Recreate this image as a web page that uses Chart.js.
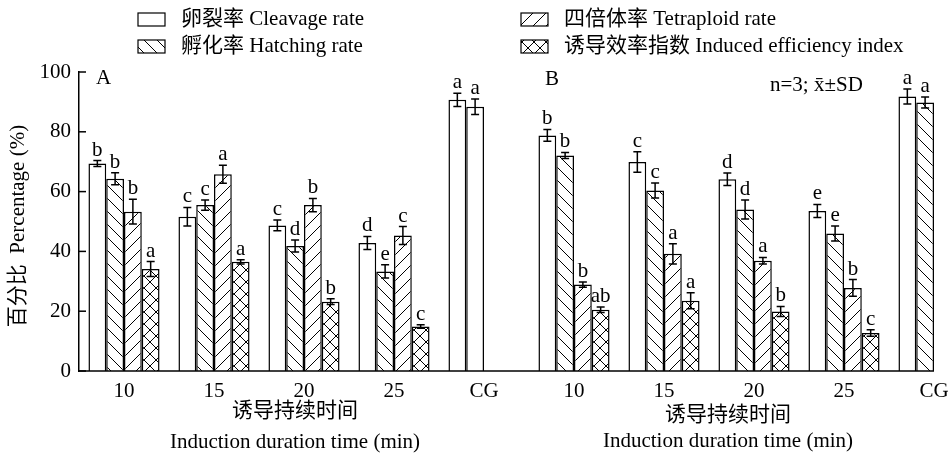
<!DOCTYPE html>
<html>
<head>
<meta charset="utf-8">
<script src="https://cdn.jsdelivr.net/npm/chart.js@4.4.1/dist/chart.umd.min.js"></script>
<style>
  html, body { margin: 0; padding: 0; background: #fff; overflow: hidden; }
  #wrap { width: 994px; height: 456px; }
</style>
</head>
<body>
<div id="wrap"><canvas id="chart" width="994" height="456"></canvas></div>
<script>
// groups: panel A (10..25, CG) then panel B (10..25, CG)
const categories = ['10', '15', '20', '25', 'CG', '10', '15', '20', '25', 'CG'];

const cleavage     = [69.4, 51.6, 48.7, 42.8, 90.7, 78.8, 69.9, 64.1, 53.5, 91.8];
const cleavageSD   = [1.0, 3.1, 1.8, 2.2, 2.2, 2.0, 3.4, 2.1, 2.2, 2.5];
const cleavageSig  = ['b', 'c', 'c', 'd', 'a', 'b', 'c', 'd', 'e', 'a'];

const hatching     = [64.3, 55.5, 41.8, 33.3, 88.4, 72.1, 60.4, 54.0, 46.0, 89.8];
const hatchingSD   = [2.0, 1.7, 2.0, 2.2, 2.6, 1.0, 2.5, 3.2, 2.5, 1.8];
const hatchingSig  = ['b', 'c', 'd', 'e', 'a', 'b', 'c', 'd', 'e', 'a'];

const tetraploid    = [53.3, 65.8, 55.5, 45.3, null, 28.9, 39.2, 36.9, 27.8, null];
const tetraploidSD  = [4.1, 3.0, 2.2, 3.0, null, 0.9, 3.4, 1.1, 2.8, null];
const tetraploidSig = ['b', 'a', 'b', 'c', null, 'b', 'a', 'a', 'b', null];

const induced     = [34.1, 36.5, 23.2, 14.9, null, 20.5, 23.5, 19.9, 12.7, null];
const inducedSD   = [2.5, 0.7, 1.0, 0.6, null, 0.9, 2.7, 1.7, 1.1, null];
const inducedSig  = ['a', 'a', 'b', 'c', null, 'ab', 'a', 'b', 'c', null];

const yTicks = [0, 20, 40, 60, 80, 100];

const FONT = '21px "Liberation Serif", "Noto Sans CJK SC", serif';

function makePattern(kind, s) {
  const c = document.createElement('canvas');
  c.width = s; c.height = s;
  const g = c.getContext('2d');
  g.fillStyle = '#fff';
  g.fillRect(0, 0, s, s);
  g.strokeStyle = '#000';
  g.lineWidth = 1;
  g.beginPath();
  if (kind === 'back' || kind === 'cross') {
    g.moveTo(-1, -1); g.lineTo(s + 1, s + 1);
    g.moveTo(-2, s - 2); g.lineTo(2, s + 2);
    g.moveTo(s - 2, -2); g.lineTo(s + 2, 2);
  }
  if (kind === 'fwd' || kind === 'cross') {
    g.moveTo(-1, s + 1); g.lineTo(s + 1, -1);
    g.moveTo(-2, 2); g.lineTo(2, -2);
    g.moveTo(s - 2, s + 2); g.lineTo(s + 2, s - 2);
  }
  g.stroke();
  return document.getElementById('chart').getContext('2d').createPattern(c, 'repeat');
}

const backHatch = makePattern('back', 13);
const fwdHatch = makePattern('fwd', 13);
const crossHatch = makePattern('cross', 12);

const series = [
  { label: '卵裂率 Cleavage rate', data: cleavage, sd: cleavageSD, sig: cleavageSig, fill: '#fff' },
  { label: '孵化率 Hatching rate', data: hatching, sd: hatchingSD, sig: hatchingSig,
    fill: ctx => (ctx.dataIndex === 4 ? '#fff' : backHatch) },
  { label: '四倍体率 Tetraploid rate', data: tetraploid, sd: tetraploidSD, sig: tetraploidSig, fill: fwdHatch },
  { label: '诱导效率指数 Induced efficiency index', data: induced, sd: inducedSD, sig: inducedSig, fill: crossHatch },
];

// legend boxes: [series index, x, y]
const legendPos = [[0, 138, 19], [1, 138, 46], [2, 521, 19], [3, 521, 46]];

const annotate = {
  id: 'annotate',
  afterDatasetsDraw(chart) {
    const ctx = chart.ctx;
    const y = chart.scales.y;
    ctx.save();
    ctx.strokeStyle = '#000';
    ctx.fillStyle = '#000';
    ctx.lineWidth = 1.5;
    ctx.font = FONT;
    ctx.textAlign = 'center';
    ctx.textBaseline = 'alphabetic';
    series.forEach((s, di) => {
      const meta = chart.getDatasetMeta(di);
      meta.data.forEach((bar, i) => {
        const v = s.data[i];
        if (v == null) return;
        const top = y.getPixelForValue(v + s.sd[i]);
        const bot = y.getPixelForValue(v - s.sd[i]);
        ctx.beginPath();
        ctx.moveTo(bar.x, top); ctx.lineTo(bar.x, bot);
        ctx.moveTo(bar.x - 4, top); ctx.lineTo(bar.x + 4, top);
        ctx.moveTo(bar.x - 4, bot); ctx.lineTo(bar.x + 4, bot);
        ctx.stroke();
        ctx.fillText(s.sig[i], bar.x, top - 5);
      });
    });

    // x axis line up to the right edge of the last bar
    const area = chart.chartArea;
    const last = chart.getDatasetMeta(1).data[categories.length - 1];
    ctx.beginPath();
    ctx.moveTo(area.left - 1, area.bottom);
    ctx.lineTo(last.x + last.width / 2, area.bottom);
    ctx.stroke();

    // inward y ticks
    yTicks.forEach(t => {
      const py = y.getPixelForValue(t);
      ctx.beginPath();
      ctx.moveTo(area.left, py);
      ctx.lineTo(area.left + 7, py);
      ctx.stroke();
    });
    ctx.restore();
  },
  afterDraw(chart) {
    const ctx = chart.ctx;
    ctx.save();
    ctx.fillStyle = '#000';
    ctx.strokeStyle = '#000';
    ctx.font = FONT;
    ctx.textBaseline = 'middle';

    // legend
    ctx.textAlign = 'left';
    ctx.lineWidth = 1.2;
    legendPos.forEach(([si, x, yy]) => {
      const s = series[si];
      ctx.fillStyle = typeof s.fill === 'function' ? backHatch : s.fill;
      ctx.fillRect(x, yy - 6, 27, 13);
      ctx.strokeRect(x, yy - 6, 27, 13);
      ctx.fillStyle = '#000';
      ctx.fillText(s.label, x + 43, yy);
    });

    // panel labels and note
    ctx.fillText('A', 96, 78);
    ctx.fillText('B', 545, 79);
    ctx.fillText('n=3; x\u0304\u00b1SD', 770, 85);

    // x axis titles
    ctx.textAlign = 'center';
    ctx.fillText('诱导持续时间', 295, 411);
    ctx.fillText('Induction duration time (min)', 295, 442);
    ctx.fillText('诱导持续时间', 728, 415);
    ctx.fillText('Induction duration time (min)', 728, 441);

    // y axis title
    ctx.translate(18, 226);
    ctx.rotate(-Math.PI / 2);
    ctx.fillText('百分比  Percentage (%)', 0, 0);
    ctx.restore();
  }
};

new Chart(document.getElementById('chart'), {
  type: 'bar',
  data: {
    labels: categories,
    datasets: series.map(s => ({
      label: s.label,
      data: s.data,
      backgroundColor: s.fill,
      borderColor: '#000',
      borderWidth: 1.5,
      categoryPercentage: 0.79,
      barPercentage: 1.0,
    })),
  },
  options: {
    responsive: false,
    animation: false,
    devicePixelRatio: 1,
    layout: { padding: { top: 72, right: 15, bottom: 0, left: 0 } },
    plugins: { legend: { display: false }, tooltip: { enabled: false } },
    scales: {
      x: {
        grid: { display: false, drawTicks: false },
        border: { display: false },
        ticks: { color: '#000', font: { family: '"Liberation Serif", serif', size: 21 }, padding: 8, maxRotation: 0, autoSkip: false },
        afterFit: scale => { scale.height = 85; },
      },
      y: {
        min: 0,
        max: 100,
        grid: { display: false, drawTicks: false },
        border: { display: true, color: '#000', width: 1.5 },
        ticks: { stepSize: 20, color: '#000', font: { family: '"Liberation Serif", serif', size: 21 }, padding: 8 },
        afterFit: scale => { scale.width = 79; },
      },
    },
  },
  plugins: [annotate],
});
</script>
</body>
</html>
